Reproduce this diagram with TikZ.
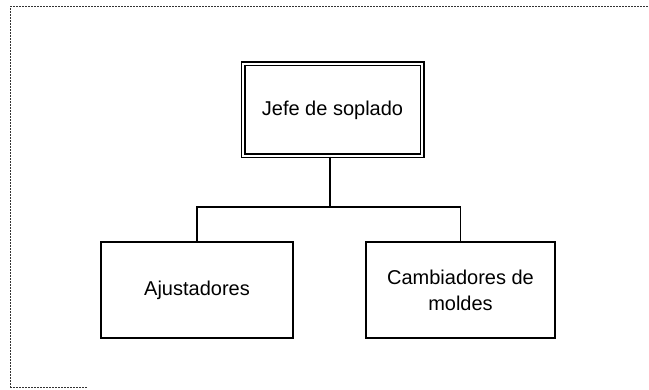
\documentclass[tikz,border=0pt]{standalone}
\usepackage{fontspec}
\setmainfont{Liberation Sans}
\begin{document}
\begin{tikzpicture}[x=1pt,y=-1pt,
  box/.style={draw=black, line width=1.5pt, fill=white, inner sep=0pt, align=center, font=\fontsize{20}{26}\selectfont},
  dbox/.style={draw=black, line width=1.4pt, double=white, double distance=2.2pt, inner sep=0pt, align=center, font=\fontsize{20}{26}\selectfont},
  conn/.style={draw=black, line width=1.4pt},
  frame/.style={draw=black!80, line width=1pt, dash pattern=on 1.5pt off 1.5pt}]
\useasboundingbox (0,0) rectangle (649,390);
% frame
\draw[frame] (10,388) -- (10,7) -- (649,7);
\draw[frame] (10,388) -- (88,388);
% nodes
\node[dbox, minimum width=179pt, minimum height=92pt] (jefe) at (332.5,110) {Jefe de soplado};
\node[box, minimum width=192pt, minimum height=96pt] (aju) at (197,290) {Ajustadores};
\node[box, minimum width=189pt, minimum height=96pt] (cam) at (460.5,290) {Cambiadores de\\moldes};
\coordinate (mid) at (330,207);
\draw[conn] (jefe.south -| mid) -- (mid);
\draw[conn] (aju.north) |- (mid) -| (cam.north);
\end{tikzpicture}
\end{document}
